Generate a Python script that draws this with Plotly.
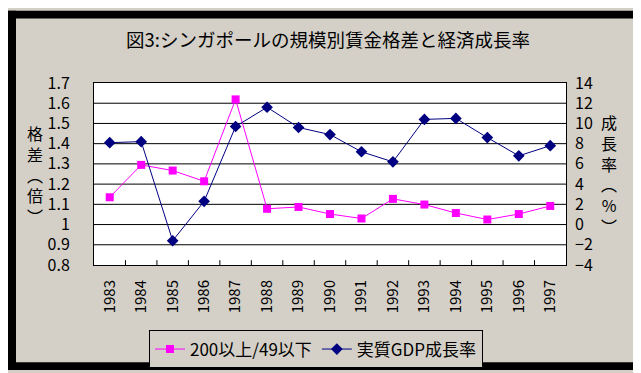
import plotly.graph_objects as go

years = list(range(1983, 1998))
year_labels = [str(y) for y in years]
wage_gap = [1.135, 1.295, 1.267, 1.214, 1.619, 1.078, 1.087, 1.052, 1.030,
            1.127, 1.099, 1.057, 1.025, 1.052, 1.092]
gdp_growth = [8.1, 8.2, -1.6, 2.3, 9.7, 11.6, 9.6, 8.9, 7.2, 6.2, 10.4, 10.5,
              8.6, 6.8, 7.8]
left_ticks = [0.8, 0.9, 1.0, 1.1, 1.2, 1.3, 1.4, 1.5, 1.6, 1.7]
left_ticktext = ["0.8", "0.9", "1", "1.1", "1.2", "1.3", "1.4", "1.5", "1.6", "1.7"]
right_ticks = [-4, -2, 0, 2, 4, 6, 8, 10, 12, 14]
name_gap = "200以上/49以下"
name_gdp = "実質GDP成長率"
title = "図3:シンガポールの規模別賃金格差と経済成長率"
left_title = "格差︵倍︶"
right_title = "成長率︵%︶"

FONT = "Noto Sans CJK JP, Noto Sans, sans-serif"
GRAY = "#d4d0c8"
W, H = 641, 373
L, R, T, B = 86, 558, 75, 264
pw, ph = R - L, B - T

def px(x):
    return (x - L) / pw

def py(y):
    return (B - y) / ph

x_lo, x_hi = years[0] - 0.5, years[-1] + 0.5
y_lo, y_hi = left_ticks[0], left_ticks[-1]
tick_len = (y_hi - y_lo) * 5 / ph

# helper lines: horizontal gridlines and inside category-boundary ticks
gx, gy = [], []
for v in left_ticks[1:-1]:
    gx += [x_lo, x_hi, None]
    gy += [v, v, None]
for yv in years[:-1]:
    gx += [yv + 0.5, yv + 0.5, None]
    gy += [y_lo, y_lo + tick_len, None]

fig = go.Figure()
fig.add_trace(go.Scatter(
    x=gx, y=gy, mode="lines", line=dict(color="black", width=1),
    showlegend=False, hoverinfo="skip", yaxis="y"))
fig.add_trace(go.Scatter(
    x=years, y=wage_gap, name=name_gap, mode="lines+markers",
    line=dict(color="#ff00ff", width=1),
    marker=dict(symbol="square", size=8, color="#ff00ff"),
    yaxis="y"))
fig.add_trace(go.Scatter(
    x=years, y=gdp_growth, name=name_gdp, mode="lines+markers",
    line=dict(color="#000080", width=1),
    marker=dict(symbol="diamond", size=9, color="#000080"),
    yaxis="y2"))

border = dict(type="rect", xref="paper", yref="paper", fillcolor="black",
              line=dict(width=0), layer="above")
shapes = [
    dict(border, x0=px(0), x1=px(8), y0=py(H), y1=py(0)),
    dict(border, x0=px(632), x1=px(W), y0=py(H), y1=py(0)),
    dict(border, x0=px(0), x1=px(W), y0=py(8), y1=py(0)),
    dict(border, x0=px(0), x1=px(W), y0=py(H), y1=py(365)),
]

fig.update_layout(
    width=W, height=H,
    margin=dict(l=L, r=W - R, t=T, b=H - B, pad=0),
    paper_bgcolor=GRAY,
    plot_bgcolor="white",
    font=dict(family=FONT, size=16, color="black"),
    showlegend=True,
    legend=dict(orientation="h", x=px(141), xanchor="left", y=py(332), yanchor="top",
                bgcolor=GRAY, bordercolor="black", borderwidth=1,
                font=dict(family=FONT, size=17, color="black")),
    xaxis=dict(range=[x_lo, x_hi], tickvals=years, ticktext=year_labels,
               showgrid=False, showline=True, linecolor="black",
               linewidth=1, mirror=True, ticks="", tickangle=-90,
               tickfont=dict(size=15), zeroline=False, ticklabelstandoff=8),
    yaxis=dict(range=[y_lo, y_hi], tickvals=left_ticks, ticktext=left_ticktext,
               showgrid=False, showline=True,
               linecolor="black", linewidth=1, mirror=True, ticks="",
               zeroline=False, ticklabelstandoff=20),
    yaxis2=dict(range=[-4, 14], tickvals=right_ticks, overlaying="y", side="right",
                showgrid=False, showline=False, ticks="", zeroline=False,
                ticklabelstandoff=8),
    shapes=shapes,
    annotations=[
        dict(text=title, xref="paper", yref="paper", x=px(320), y=py(29),
             xanchor="center", yanchor="middle", showarrow=False,
             font=dict(size=18.5)),
        dict(text="<br>".join(left_title), xref="paper", yref="paper",
             x=px(27), y=py(170), xanchor="center", yanchor="middle",
             showarrow=False, font=dict(size=16)),
        dict(text="<br>".join(right_title), xref="paper", yref="paper",
             x=px(601), y=py(170), xanchor="center", yanchor="middle",
             showarrow=False, font=dict(size=16)),
    ],
)

fig.write_html("out.html")
